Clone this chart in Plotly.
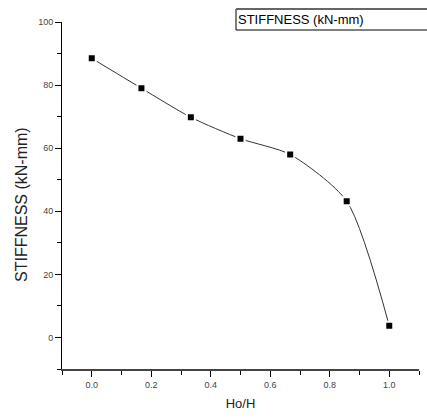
import plotly.graph_objects as go

ho_h = [0.0, 0.167, 0.333, 0.5, 0.667, 0.857, 1.0]
stiffness = [88.5, 79.0, 69.8, 63.0, 58.0, 43.2, 3.7]
y_ticks = [0, 20, 40, 60, 80, 100]
x_ticks = [0.0, 0.2, 0.4, 0.6, 0.8, 1.0]

L, R, T, B = 62, 8, 22, 50
W, H = 427, 419
pw, ph = W - L - R, H - T - B

def px_x(p):
    return (p - L) / pw

def px_y(p):
    return 1 - (p - T) / ph

fig = go.Figure()
fig.add_trace(go.Scatter(
    x=ho_h, y=stiffness, mode="lines+markers",
    line=dict(shape="spline", smoothing=0.7, color="#333333", width=1),
    marker=dict(symbol="square", size=8, color="black", line=dict(color="white", width=2)),
    showlegend=False,
))

fig.update_layout(
    width=W, height=H,
    margin=dict(l=L, r=R, t=T, b=B),
    paper_bgcolor="white", plot_bgcolor="white",
    font=dict(family="Liberation Sans, Arial, sans-serif", color="#222"),
)
fig.update_xaxes(
    range=[-0.1, 1.1], tickvals=x_ticks, ticktext=[f"{v:.1f}" for v in x_ticks],
    showgrid=False, zeroline=False, showline=True, linecolor="#444", linewidth=1.5,
    ticks="outside", ticklen=6, tickcolor="black", tickfont=dict(size=9, color="#444"),
    minor=dict(dtick=0.1, tick0=0, ticks="outside", ticklen=4, tickcolor="black"),
    automargin=False,
    title=dict(text="Ho/H", font=dict(size=13, color="#222"), standoff=10),
)
fig.update_yaxes(
    range=[-10, 100], tickvals=y_ticks,
    showgrid=False, zeroline=False, showline=True, linecolor="black", linewidth=1,
    ticks="outside", ticklen=6, tickcolor="black", tickfont=dict(size=9, color="#444"),
    minor=dict(dtick=10, tick0=0, ticks="outside", ticklen=4, tickcolor="black"),
    automargin=False,
)
# y-axis title
fig.add_annotation(
    xref="paper", yref="paper", x=px_x(21), y=px_y(205), xanchor="center", yanchor="middle",
    text="STIFFNESS (kN-mm)", textangle=-90, showarrow=False,
    font=dict(size=16, color="#222"),
)
# legend box
fig.add_shape(type="rect", xref="paper", yref="paper",
              x0=px_x(236), x1=px_x(440), y0=px_y(30), y1=px_y(9),
              line=dict(color="black", width=1), fillcolor="white", layer="above")
fig.add_shape(type="line", xref="paper", yref="paper",
              x0=px_x(236), x1=px_x(440), y0=px_y(9), y1=px_y(9),
              line=dict(color="#666", width=2), layer="above")
fig.add_annotation(
    xref="paper", yref="paper", x=px_x(236), y=px_y(19.5), xanchor="left", yanchor="middle",
    text="STIFFNESS (kN-mm)", showarrow=False, align="left",
    font=dict(size=13, color="black"),
)
fig.write_html("out.html", config={"displayModeBar": False},
               post_script="document.body.style.margin='0';document.body.style.overflow='hidden';")
